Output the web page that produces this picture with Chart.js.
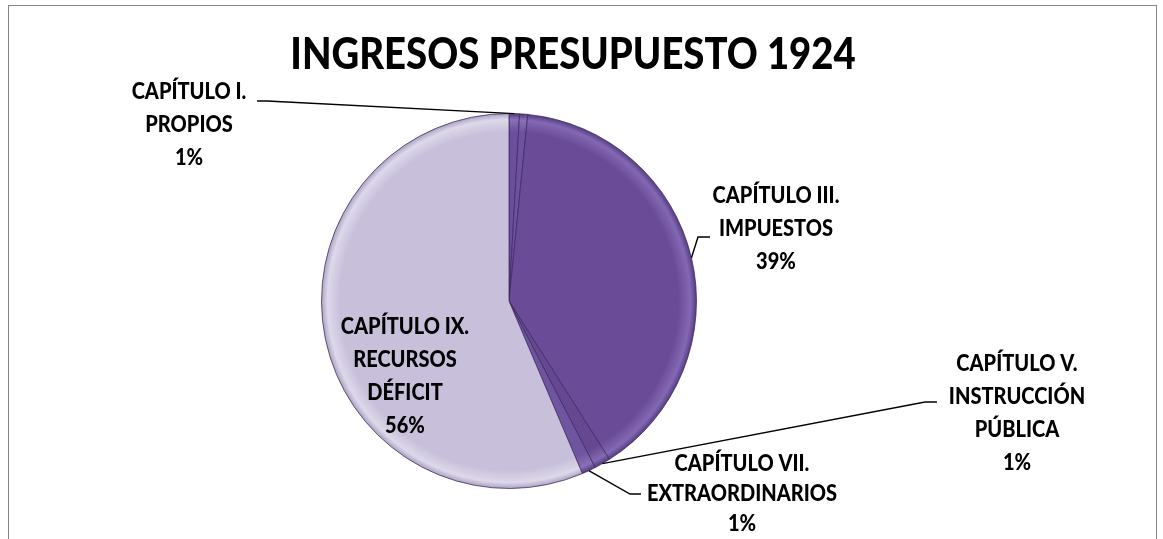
<!DOCTYPE html>
<html>
<head>
<meta charset="utf-8">
<script src="https://cdn.jsdelivr.net/npm/chart.js@4.4.1/dist/chart.umd.min.js"></script>
<style>
  html, body { margin: 0; padding: 0; background: #fff; }
  canvas { display: block; }
</style>
</head>
<body>
<canvas id="myChart" width="1163" height="539"></canvas>
<script>
// data
const chartTitle = 'INGRESOS PRESUPUESTO 1924';
const categories = [
    ['CAPÍTULO I.', 'PROPIOS'],
    ['CAPÍTULO II.'],
    ['CAPÍTULO III.', 'IMPUESTOS'],
    ['CAPÍTULO V.', 'INSTRUCCIÓN', 'PÚBLICA'],
    ['CAPÍTULO VII.', 'EXTRAORDINARIOS'],
    ['CAPÍTULO IX.', 'RECURSOS', 'DÉFICIT']
];
const shares = [0.9, 0.7, 39.4, 1.4, 1.2, 56.4];

// look
const baseColors = ['#6b4e9c', '#6e52a0', '#6a4b98', '#65488f', '#6f54a0', '#c8c0da'];
const rimLight   = ['#8a70b8', '#8a70b8', '#8468b4', '#8468b4', '#8a70b8', '#ddd8ea'];
const rimDark    = ['#4e3676', '#4e3676', '#523a7e', '#4e3676', '#4e3676', '#a99ebf'];

// where each label sits; elbow/end are the leader line bends
const labelPlaces = [
    { x: 189, y: 92, gap: 33, elbow: [267, 101], end: [257, 101] },
    null,
    { x: 776, y: 196, gap: 33, elbow: [698, 237], end: [710, 237] },
    { x: 1017, y: 364, gap: 33, elbow: [925, 402], end: [937, 402] },
    { x: 742, y: 464, gap: 30, elbow: [630, 494], end: [641, 494] },
    { x: 405, y: 327, gap: 33 }
];

const condense = 0.87;

function drawLine(ctx, text, x, y, size) {
    ctx.save();
    ctx.font = '900 ' + size + 'px Lato';
    ctx.translate(x, y);
    ctx.scale(condense, 1);
    ctx.fillText(text, 0, 0);
    ctx.restore();
}

function sliceFill(context) {
    const i = context.dataIndex;
    const area = context.chart.chartArea;
    if (!area) return baseColors[i];
    const cx = (area.left + area.right) / 2;
    const cy = (area.top + area.bottom) / 2;
    const r = Math.min(area.right - area.left, area.bottom - area.top) / 2;
    const g = context.chart.ctx.createRadialGradient(cx, cy, 0, cx, cy, r);
    g.addColorStop(0, baseColors[i]);
    g.addColorStop(0.9, baseColors[i]);
    g.addColorStop(0.965, rimLight[i]);
    g.addColorStop(1, rimDark[i]);
    return g;
}

const pieText = {
    id: 'pieText',
    beforeDraw(chart) {
        const ctx = chart.ctx;
        ctx.save();
        ctx.strokeStyle = '#868686';
        ctx.lineWidth = 1;
        ctx.strokeRect(8.5, 5.5, 1148, 600);
        ctx.restore();
    },
    afterDraw(chart) {
        const ctx = chart.ctx;
        const meta = chart.getDatasetMeta(0);
        const total = shares.reduce((a, b) => a + b, 0);
        ctx.save();
        ctx.fillStyle = '#000';
        ctx.strokeStyle = '#000';
        ctx.lineWidth = 1.4;
        ctx.textAlign = 'center';
        ctx.textBaseline = 'middle';
        drawLine(ctx, chartTitle, 573, 55, 44);
        meta.data.forEach(function(arc, i) {
            const place = labelPlaces[i];
            if (!place) return;
            const lines = categories[i].concat(Math.round(shares[i] / total * 100) + '%');
            lines.forEach(function(t, k) {
                drawLine(ctx, t, place.x, place.y + k * place.gap, 23);
            });
            if (place.elbow) {
                const mid = (arc.startAngle + arc.endAngle) / 2;
                ctx.beginPath();
                ctx.moveTo(arc.x + Math.cos(mid) * arc.outerRadius, arc.y + Math.sin(mid) * arc.outerRadius);
                ctx.lineTo(place.elbow[0], place.elbow[1]);
                ctx.lineTo(place.end[0], place.end[1]);
                ctx.stroke();
            }
        });
        ctx.restore();
    }
};

const ctx = document.getElementById('myChart').getContext('2d');

const myChart = new Chart(ctx, {
    type: 'pie',
    data: {
        labels: categories.map(c => c.join(' ')),
        datasets: [{
            data: shares,
            backgroundColor: sliceFill,
            borderColor: 'rgba(60, 40, 95, 0.75)',
            borderWidth: 1
        }]
    },
    options: {
        responsive: false,
        animation: false,
        layout: {
            padding: { top: 113, bottom: 50, left: 300, right: 445 }
        },
        plugins: {
            legend: { display: false },
            title: { display: false },
            tooltip: { enabled: false }
        }
    },
    plugins: [pieText]
});
</script>
</body>
</html>
